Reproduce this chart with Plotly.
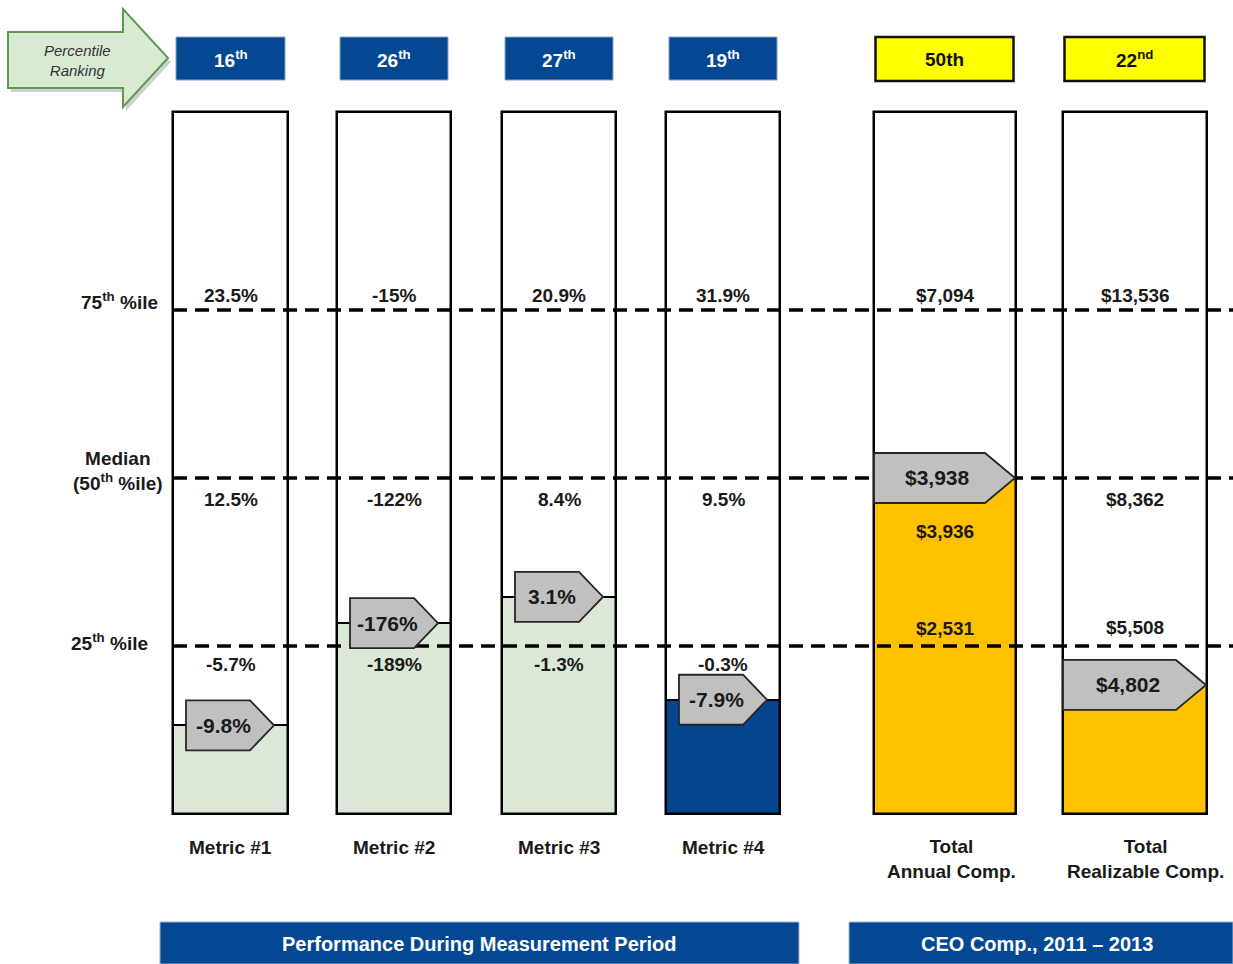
import plotly.graph_objects as go

# ---------------- data ----------------
categories = ["Metric #1", "Metric #2", "Metric #3", "Metric #4",
              "Total<br>Annual Comp.", "Total<br>Realizable Comp."]
rank_labels = ["16<sup>th</sup>", "26<sup>th</sup>", "27<sup>th</sup>", "19<sup>th</sup>",
               "50th", "22<sup>nd</sup>"]
pct75_labels = ["23.5%", "-15%", "20.9%", "31.9%", "$7,094", "$13,536"]
pct50_labels = ["12.5%", "-122%", "8.4%", "9.5%", "$3,936", "$8,362"]
pct25_labels = ["-5.7%", "-189%", "-1.3%", "-0.3%", "$2,531", "$5,508"]
actual_labels = ["-9.8%", "-176%", "3.1%", "-7.9%", "$3,938", "$4,802"]
actual_rank = [13.2, 28.4, 32.3, 17.0, 50.0, 19.2]   # position of the filled level (percentile scale)
quartile_levels = [25, 50, 75]
quartile_names = ["25<sup>th</sup> %ile", "Median<br>(50<sup>th</sup> %ile)", "75<sup>th</sup> %ile"]
group_titles = ["Performance During Measurement Period", "CEO Comp., 2011 – 2013"]
ranking_title = "<i>Percentile<br>Ranking</i>"

# ---------------- layout constants ----------------
W, H = 1233, 964
PX_PER_UNIT = 6.72
Y_TOP = 121.13           # value at the top pixel row


def v(py):
    """pixel row -> value on the percentile axis"""
    return Y_TOP - py / PX_PER_UNIT


col_x = [230.5, 394, 559, 723, 945, 1135]
col_w = [115, 114, 114, 114, 142, 144]
is_comp = [False, False, False, False, True, True]
box_top = 104.5
fill_colors = ["#dbe8d8", "#dbe8d8", "#dbe8d8", "#03458f", "#ffc000", "#ffc000"]
blue = "#044894"
txt = "#1a1a1a"
FONT = "Liberation Sans, Arial, sans-serif"

row75_py = [295] * 6
row50_py = [499, 499, 499, 499, 531, 499]
row25_py = [664, 664, 664, 664, 628, 627]

fig = go.Figure()

# filled levels
fig.add_trace(go.Bar(
    x=col_x, y=actual_rank, base=0, width=col_w,
    marker=dict(color=fill_colors, line=dict(color="black", width=2)),
    hoverinfo="skip", showlegend=False))
# outline boxes
fig.add_trace(go.Bar(
    x=col_x, y=[box_top] * 6, base=0, width=col_w,
    marker=dict(color="rgba(0,0,0,0)", line=dict(color="black", width=2.5)),
    hoverinfo="skip", showlegend=False))

shapes = []
annotations = []

# quartile dashed lines
for q in quartile_levels:
    shapes.append(dict(type="line", xref="x", yref="y", x0=173, x1=W, y0=q, y1=q,
                       line=dict(color="black", width=3.5, dash="14px,8px"), layer="above"))

# pentagon callouts
half_h = 25 / PX_PER_UNIT
for i in range(6):
    left_box = col_x[i] - col_w[i] / 2
    if is_comp[i]:
        left = left_box
        tip = left_box + col_w[i] - 1
        slant = 30
    else:
        left = left_box + 13
        tip = left_box + 101
        slant = 24
    corner = tip - slant
    yv = actual_rank[i]
    path = (f"M {left},{yv + half_h} L {corner},{yv + half_h} L {tip},{yv} "
            f"L {corner},{yv - half_h} L {left},{yv - half_h} Z")
    shapes.append(dict(type="path", xref="x", yref="y", path=path,
                       fillcolor="#c0c0c0", line=dict(color="#262626", width=1.8), layer="above"))
    annotations.append(dict(x=(left + tip) / 2 - 7, y=yv, xref="x", yref="y",
                            text=f"<b>{actual_labels[i]}</b>", showarrow=False,
                            font=dict(family=FONT, size=21, color=txt)))

# value labels in the boxes
for i in range(6):
    for lab, py in ((pct75_labels[i], row75_py[i]), (pct50_labels[i], row50_py[i]),
                    (pct25_labels[i], row25_py[i])):
        annotations.append(dict(x=col_x[i], y=v(py), xref="x", yref="y",
                                text=f"<b>{lab}</b>", showarrow=False,
                                font=dict(family=FONT, size=19, color=txt)))

# category labels under the boxes
cat_shift = [0, 0, 0, 0, 6, 10]
for i in range(6):
    two = "<br>" in categories[i]
    annotations.append(dict(x=col_x[i] + cat_shift[i], y=v(859 if two else 847), xref="x", yref="y",
                            text=f"<b>{categories[i]}</b>", showarrow=False,
                            font=dict(family=FONT, size=19, color=txt)))

# percentile-rank header boxes
for i in range(6):
    hw = (col_w[i] - 6) / 2 if not is_comp[i] else (col_w[i] - 4) / 2
    cx = col_x[i] - (0.5 if is_comp[i] else 0)
    if is_comp[i]:
        shapes.append(dict(type="rect", xref="x", yref="y", x0=cx - hw, x1=cx + hw,
                           y0=v(81), y1=v(37), fillcolor="#ffff00",
                           line=dict(color="#111", width=2.5), layer="above"))
        col = "#111"
    else:
        shapes.append(dict(type="rect", xref="x", yref="y", x0=cx - hw, x1=cx + hw,
                           y0=v(80), y1=v(37), fillcolor=blue,
                           line=dict(color="#8aa0c0", width=1), layer="above"))
        col = "white"
    annotations.append(dict(x=cx, y=v(59), xref="x", yref="y", text=f"<b>{rank_labels[i]}</b>",
                            showarrow=False, font=dict(family=FONT, size=19, color=col)))

# quartile names on the left
annotations.append(dict(x=160, y=v(301), xref="x", yref="y", xanchor="right",
                        text=f"<b>{quartile_names[2]}</b>", showarrow=False,
                        font=dict(family=FONT, size=19, color=txt)))
annotations.append(dict(x=118, y=v(471), xref="x", yref="y", xanchor="center",
                        text=f"<b>{quartile_names[1]}</b>", showarrow=False,
                        font=dict(family=FONT, size=19, color=txt)))
annotations.append(dict(x=150, y=v(642), xref="x", yref="y", xanchor="right",
                        text=f"<b>{quartile_names[0]}</b>", showarrow=False,
                        font=dict(family=FONT, size=19, color=txt)))

# "Percentile Ranking" block arrow (with soft shadow)
def arrow_path(dx=0, dy=0):
    pts = [(8, 32), (123, 32), (123, 9), (168, 58), (123, 107), (123, 88), (8, 88)]
    s = " L ".join(f"{x + dx},{v(y + dy)}" for x, y in pts)
    return "M " + s + " Z"


shapes.append(dict(type="path", xref="x", yref="y", path=arrow_path(3, 4),
                   fillcolor="rgba(0,0,0,0.18)", line=dict(width=0), layer="above"))
shapes.append(dict(type="path", xref="x", yref="y", path=arrow_path(),
                   fillcolor="#d9ead3", line=dict(color="#5f9a55", width=2), layer="above"))
annotations.append(dict(x=77, y=v(60), xref="x", yref="y", text=ranking_title, showarrow=False,
                        font=dict(family=FONT, size=15, color="#333")))

# group banners at the bottom
banner_px = [(160, 799), (849, W)]
for (x0, x1), t in zip(banner_px, group_titles):
    shapes.append(dict(type="rect", xref="x", yref="y", x0=x0, x1=x1, y0=v(H), y1=v(922),
                       fillcolor=blue, line=dict(color="#9fb3d1", width=1), layer="above"))
    annotations.append(dict(x=(x0 + x1) / 2 - (0 if x1 < W else 4), y=v(944), xref="x", yref="y",
                            text=f"<b>{t}</b>", showarrow=False,
                            font=dict(family=FONT, size=20, color="white")))

fig.update_layout(
    width=W, height=H,
    margin=dict(l=0, r=0, t=0, b=0),
    paper_bgcolor="white", plot_bgcolor="white",
    barmode="overlay", bargap=0,
    xaxis=dict(range=[0, W], visible=False, fixedrange=True),
    yaxis=dict(range=[v(H), Y_TOP], visible=False, fixedrange=True),
    shapes=shapes, annotations=annotations,
    showlegend=False,
)

fig.write_html("out.html", config={"displayModeBar": False},
               post_script="document.body.style.margin='0';document.body.style.overflow='hidden';")
